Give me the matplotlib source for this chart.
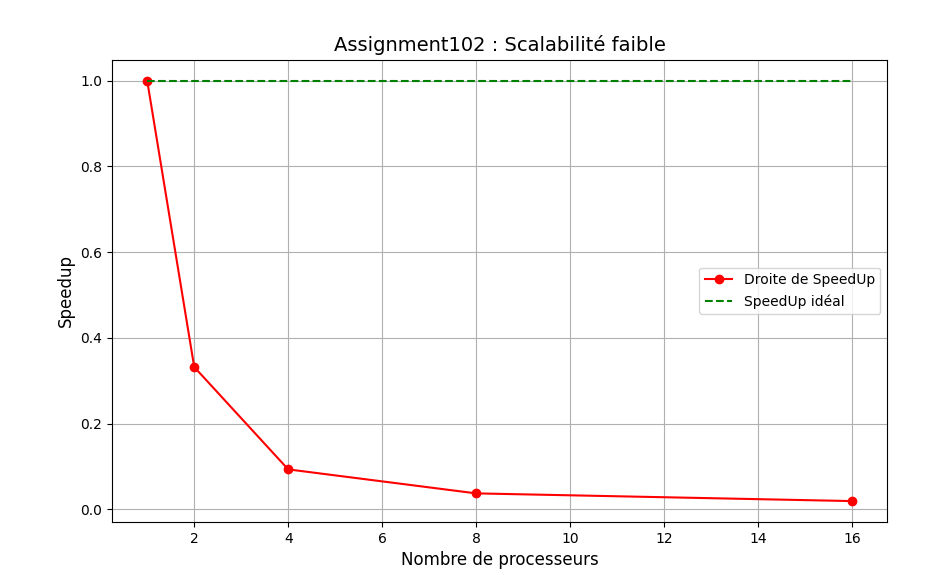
import matplotlib
matplotlib.use("Agg")
import matplotlib.pyplot as plt

# processors and measured speedup
procs = [1, 2, 4, 8, 16]
speedup = [1.0, 0.332, 0.093, 0.037, 0.019]
ideal = [1.0, 1.0, 1.0, 1.0, 1.0]

fig = plt.figure(figsize=(9.49, 5.75), dpi=100)
ax = fig.add_axes([0.118, 0.092, 0.817, 0.804])

ax.plot(procs, speedup, "o-", color="red", label="Droite de SpeedUp")
ax.plot(procs, ideal, "--", color="green", label="SpeedUp idéal")

ax.set_title("Assignment102 : Scalabilité faible", fontsize=14)
ax.set_xlabel("Nombre de processeurs", fontsize=12)
ax.set_ylabel("Speedup", fontsize=12)
ax.grid(True)
ax.legend(loc="center right")

fig.savefig("out.png", dpi=100)
